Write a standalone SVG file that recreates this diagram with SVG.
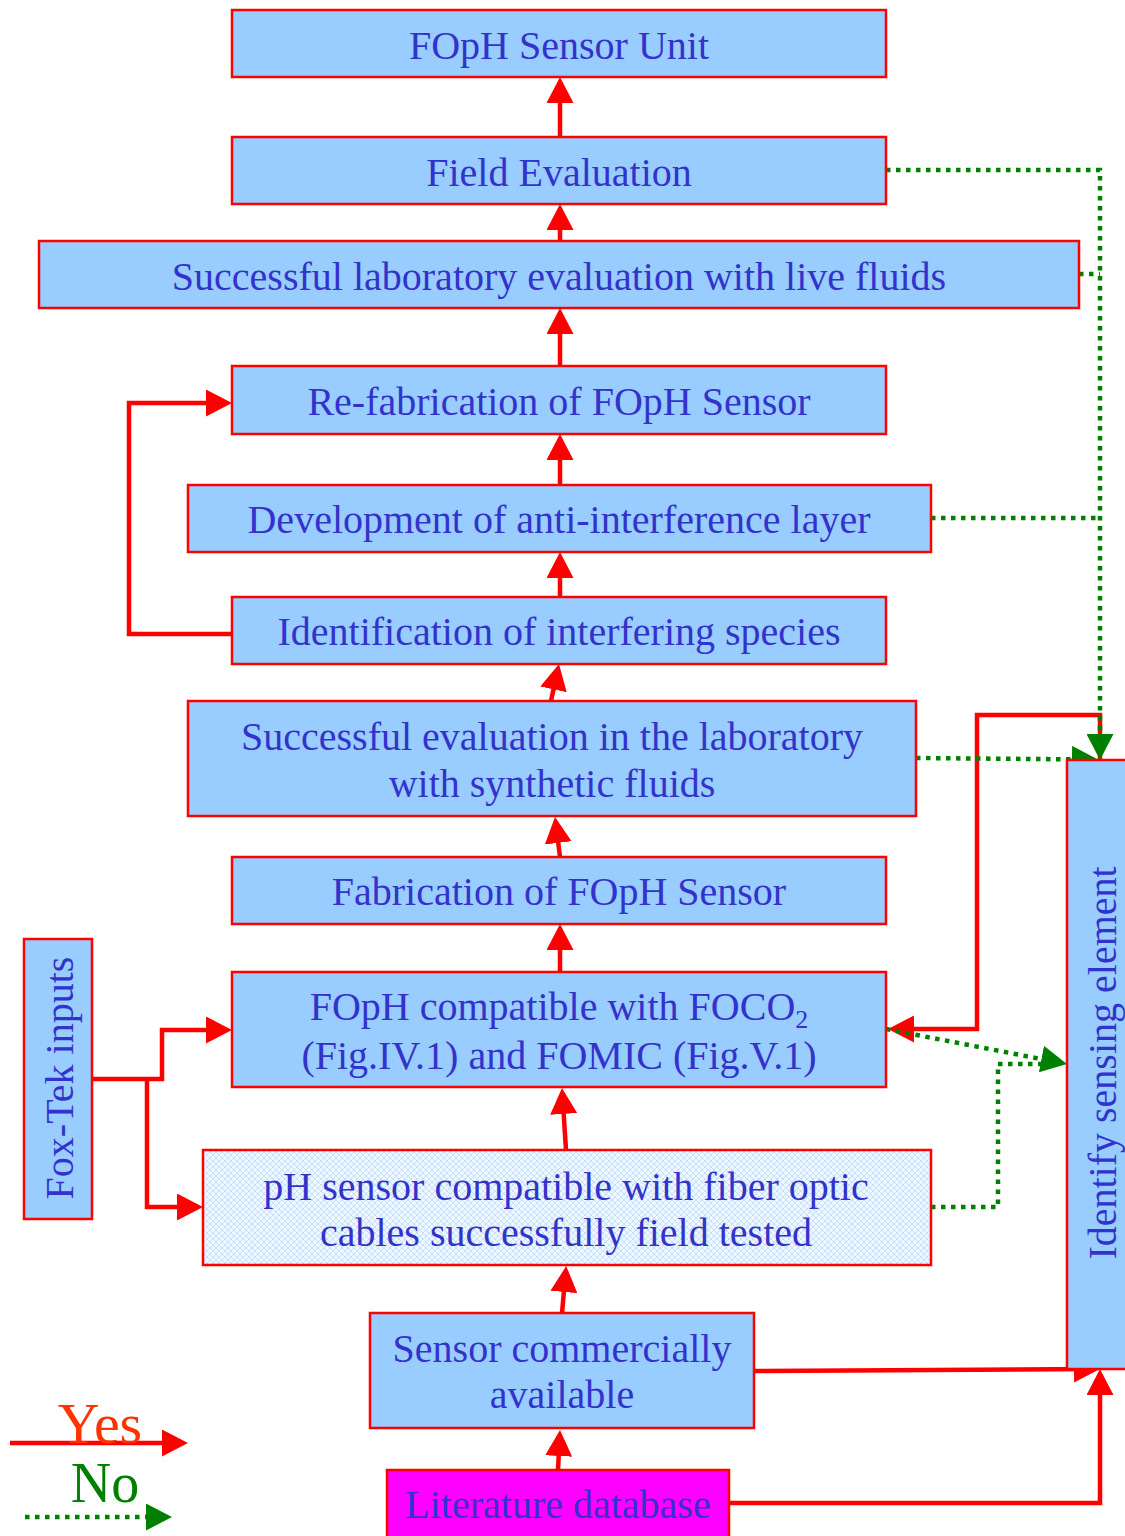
<svg xmlns="http://www.w3.org/2000/svg" width="1125" height="1536" viewBox="0 0 1125 1536">
<style>
.box{fill:#99CCFF;stroke:#FF0000;stroke-width:2.5}
.t{font-family:"Liberation Serif","Times New Roman",serif;font-size:40px;fill:#3333CC;text-anchor:middle}
.yes{fill:none;stroke:#FF0000;stroke-width:4.5;marker-end:url(#ar)}
.yesn{fill:none;stroke:#FF0000;stroke-width:4.5}
.no{fill:none;stroke:#008000;stroke-width:4.5;stroke-dasharray:4.5 5.5;marker-end:url(#ag)}
.non{fill:none;stroke:#008000;stroke-width:4.5;stroke-dasharray:4.5 5.5}
</style>
<defs>
<marker id="ar" markerUnits="userSpaceOnUse" viewBox="0 0 26 27" markerWidth="26" markerHeight="27" refX="18" refY="13.5" orient="auto"><path d="M0,0 L26,13.5 L0,27 z" fill="#FF0000"/></marker>
<marker id="ag" markerUnits="userSpaceOnUse" viewBox="0 0 26 27" markerWidth="26" markerHeight="27" refX="18" refY="13.5" orient="auto"><path d="M0,0 L26,13.5 L0,27 z" fill="#008000"/></marker>
<pattern id="hatch" width="6" height="6" patternUnits="userSpaceOnUse"><rect width="6" height="6" fill="#EEF6FF"/><path d="M0,0 L6,6 M6,0 L0,6" stroke="#C6E0FF" stroke-width="1"/></pattern>
</defs>
<rect width="1125" height="1536" fill="#FFFFFF"/>

<g id="connectors">
<path class="yes" d="M560,137 V85"/>
<path class="yes" d="M560,241 V212"/>
<path class="yes" d="M560,366 V316"/>
<path class="yes" d="M560,485 V442"/>
<path class="yes" d="M560,597 V560"/>
<path class="yes" d="M551,701 L557.3,671.8"/>
<path class="yes" d="M560,857 L556,825"/>
<path class="yes" d="M560,972 V932"/>
<path class="yes" d="M566,1150 L562.5,1096"/>
<path class="yes" d="M562,1313 L565.5,1274"/>
<path class="yes" d="M558,1470 L559.6,1438"/>
<path class="yes" d="M232,634 H129 V403 H224"/>
<path class="yes" d="M92,1079 H162 V1030 H224"/>
<path class="yes" d="M147,1079 V1207 H195"/>
<path class="yes" d="M1100,760 V715 H977 V1029 H896"/>
<path class="yes" d="M755,1371 L1092,1369"/>
<path class="yes" d="M729,1503 H1100 V1377"/>
<path class="no" d="M886,170 H1100 V752"/>
<path class="non" d="M1079,274 H1100"/>
<path class="non" d="M931,518 H1100"/>
<path class="no" d="M916,758 L1090,759.5"/>
<path class="no" d="M886,1029 L1059.1,1062.5"/>
<path class="non" d="M931,1207 H998 V1064 H1045"/>
</g>

<g id="n1"><rect class="box" x="232" y="10" width="654" height="67"/><text class="t" x="559" y="59">FOpH Sensor Unit</text></g>
<g id="n2"><rect class="box" x="232" y="137" width="654" height="67"/><text class="t" x="559" y="186">Field Evaluation</text></g>
<g id="n3"><rect class="box" x="39" y="241" width="1040" height="67"/><text class="t" x="559" y="290">Successful laboratory evaluation with live fluids</text></g>
<g id="n4"><rect class="box" x="232" y="366" width="654" height="68"/><text class="t" x="559" y="415">Re-fabrication of FOpH Sensor</text></g>
<g id="n5"><rect class="box" x="188" y="485" width="743" height="67"/><text class="t" x="559" y="533">Development of anti-interference layer</text></g>
<g id="n6"><rect class="box" x="232" y="597" width="654" height="67"/><text class="t" x="559" y="645">Identification of interfering species</text></g>
<g id="n7"><rect class="box" x="188" y="701" width="728" height="115"/><text class="t" x="552" y="750">Successful evaluation in the laboratory</text><text class="t" x="552" y="797">with synthetic fluids</text></g>
<g id="n8"><rect class="box" x="232" y="857" width="654" height="67"/><text class="t" x="559" y="905">Fabrication of FOpH Sensor</text></g>
<g id="n9"><rect class="box" x="232" y="972" width="654" height="115"/><text class="t" x="559" y="1020">FOpH compatible with FOCO<tspan font-size="26" dy="8">2</tspan></text><text class="t" x="559" y="1069">(Fig.IV.1) and FOMIC (Fig.V.1)</text></g>
<g id="n10"><rect x="203" y="1150" width="728" height="115" fill="url(#hatch)" stroke="#FF0000" stroke-width="2.5"/><text class="t" x="566" y="1200">pH sensor compatible with fiber optic</text><text class="t" x="566" y="1246">cables successfully field tested</text></g>
<g id="n11"><rect class="box" x="370" y="1313" width="384" height="115"/><text class="t" x="562" y="1362">Sensor commercially</text><text class="t" x="562" y="1408">available</text></g>
<g id="n12"><rect x="387" y="1470" width="342" height="80" fill="#FF00FF" stroke="#FF0000" stroke-width="2.5"/><text class="t" x="558" y="1518">Literature database</text></g>
<g id="n13"><rect class="box" x="24" y="939" width="68" height="280"/><text class="t" transform="translate(73,1078) rotate(-90)" x="0" y="0">Fox-Tek inputs</text></g>
<g id="n14"><rect class="box" x="1067" y="760" width="70" height="609"/><text class="t" transform="translate(1116,1063) rotate(-90)" x="0" y="0">Identify sensing element</text></g>

<g id="legend">
<path class="yes" d="M10,1443 H180"/>
<text x="100" y="1443" font-family="Liberation Serif, Times New Roman, serif" font-size="58" fill="#FF3300" text-anchor="middle">Yes</text>
<text x="105" y="1502" font-family="Liberation Serif, Times New Roman, serif" font-size="56" fill="#008000" text-anchor="middle">No</text>
<path class="no" d="M25,1517 H164"/>
</g>
</svg>
